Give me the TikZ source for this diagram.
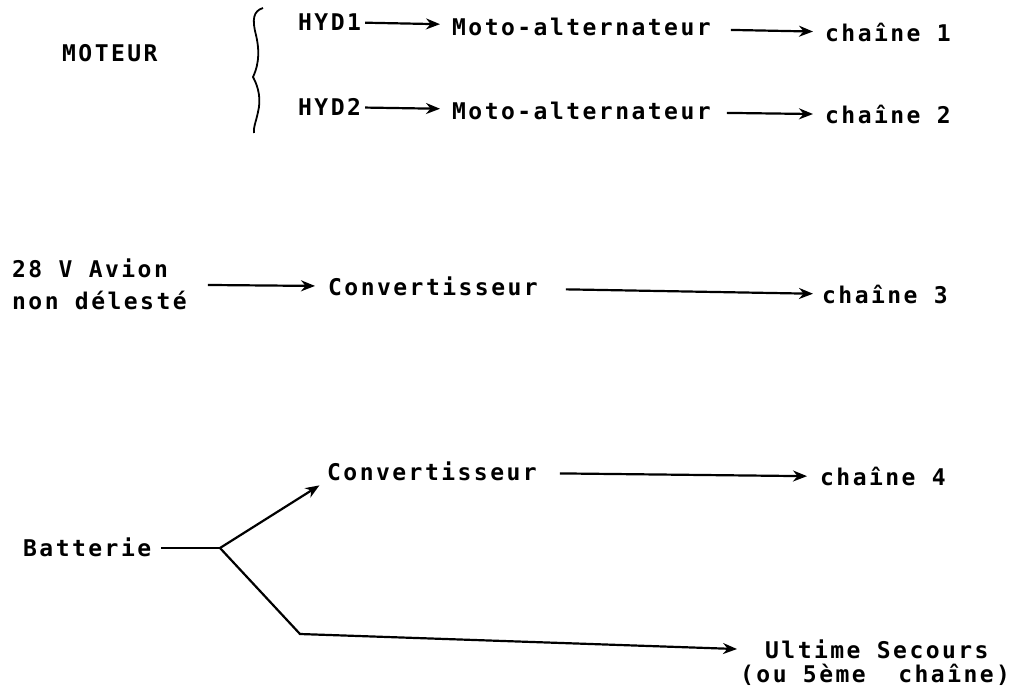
\documentclass[tikz,border=0pt]{standalone}
\usepackage{fontspec}
\newfontfamily\typefont[LetterSpace=10.7]{DejaVu Sans Mono}
\usetikzlibrary{arrows.meta, positioning}

\begin{document}
\begin{tikzpicture}[
  x=1pt, y=-1pt,
  txt/.style={inner sep=0pt, font={\typefont\bfseries\fontsize{23}{32}\selectfont}},
  lbl/.style={txt, anchor=west, text height=16.8pt, text depth=0pt},
  arr/.style={-{Stealth[length=14pt, width=11pt]}, line width=2.2pt},
  ln/.style={line width=2.2pt}
]
\useasboundingbox (0,0) rectangle (1016,692);

% moteur
\node[lbl] (moteur) at (62,53)  {MOTEUR};
\node[lbl] (hyd1)   at (298,22) {HYD1};
\node[lbl] (moto1)  at (452,27) {Moto-alternateur};
\node[lbl] (ch1)    at (825,33) {chaîne 1};
\node[lbl] (hyd2)   at (298,107) {HYD2};
\node[lbl] (moto2)  at (452,111) {Moto-alternateur};
\node[lbl] (ch2)    at (825,115) {chaîne 2};

\draw[line width=1.8pt] (263,8) .. controls (253,11) and (252,20) .. (256,35)
  .. controls (259,48) and (260,62) .. (253,77)
  .. controls (259,88) and (261,100) .. (258,112)
  .. controls (256,122) and (253,128) .. (254,133);

% 28 V
\node[txt, anchor=west, align=left] (avion) at (12,284) {28 V Avion\\non délesté};
\node[lbl] (conv3) at (328,287) {Convertisseur};
\node[lbl] (ch3)   at (822,295) {chaîne 3};

% batterie
\node[lbl] (batt)  at (23,548)  {Batterie};
\node[lbl] (conv4) at (327,472) {Convertisseur};
\node[lbl] (ch4)   at (820,477) {chaîne 4};
\node[lbl] (ult)   at (765,650) {Ultime Secours};
\node[lbl] (ult2)  at (740,674) {(ou 5ème~~chaîne)};
\coordinate (jn)  at (220,548);
\coordinate (cnr) at (300,634);

\draw[arr, shorten <=4pt, shorten >=12pt]  (hyd1)  -- (moto1);
\draw[arr, shorten <=20pt, shorten >=12pt] (moto1) -- (ch1);
\draw[arr, shorten <=4pt, shorten >=12pt]  (hyd2)  -- (moto2);
\draw[arr, shorten <=16pt, shorten >=12pt] (moto2) -- (ch2);
\draw[arr, shorten <=21pt, shorten >=13pt] (avion) -- (conv3);
\draw[arr, shorten <=28pt, shorten >=9pt]  (conv3) -- (ch3);
\draw[ln, shorten <=10pt] (batt) -- (jn);
\draw[arr, shorten >=9pt] (jn) -- (conv4.south west);
\draw[arr, shorten <=23pt, shorten >=13pt] (conv4) -- (ch4);
\draw[arr, shorten >=28pt] (jn) -- (cnr) -- (ult.west);
\end{tikzpicture}
\end{document}
